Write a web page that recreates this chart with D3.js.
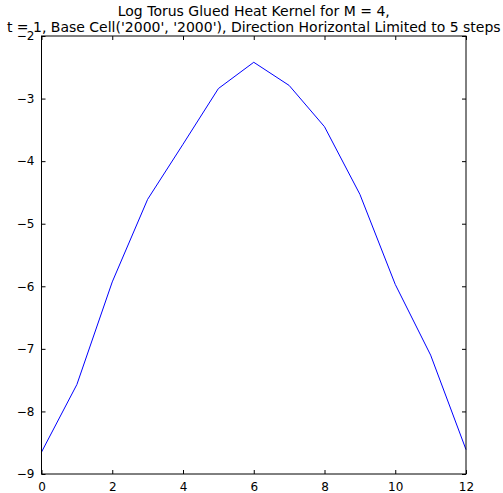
<!DOCTYPE html>
<html><head><meta charset="utf-8">
<script src="https://cdn.jsdelivr.net/npm/d3@7"></script>
<style>body{margin:0;background:#fff}svg{display:block}text{font-family:"DejaVu Sans",sans-serif}</style>
</head><body>
<script>
const xs = [0,1,2,3,4,5,6,7,8,9,10,11,12];
const ys = [-8.65,-7.57,-5.93,-4.61,-3.73,-2.84,-2.42,-2.79,-3.45,-4.53,-5.97,-7.10,-8.61];
const xTicks = [0,2,4,6,8,10,12];
const yTicks = [-9,-8,-7,-6,-5,-4,-3,-2];
const titleLines = ["Log Torus Glued Heat Kernel for M = 4,","t = 1, Base Cell('2000', '2000'), Direction Horizontal Limited to 5 steps"];

const W=503,H=493, L=41.5, R=466, T=36, B=474;
const svg=d3.select("body").append("svg").attr("width",W).attr("height",H);
const x=d3.scaleLinear().domain([0,12]).range([L,R]);
const y=d3.scaleLinear().domain([-9,-2]).range([B,T]);

svg.append("path").datum(xs.map((d,i)=>[d,ys[i]]))
  .attr("d",d3.line().x(d=>x(d[0])).y(d=>y(d[1])))
  .attr("fill","none").attr("stroke","#0000ff").attr("stroke-width",1);

const fmt=d=>d<0?"\u2212"+Math.abs(d):String(d);
const ax=svg.append("g").attr("transform",`translate(0,${B})`)
  .call(d3.axisBottom(x).tickValues(xTicks).tickSize(-4).tickPadding(8).tickFormat(fmt));
const axt=svg.append("g").attr("transform",`translate(0,${T})`)
  .call(d3.axisTop(x).tickValues(xTicks).tickSize(-4).tickFormat(""));
const ay=svg.append("g").attr("transform",`translate(${L},0)`)
  .call(d3.axisLeft(y).tickValues(yTicks).tickSize(-4).tickPadding(7).tickFormat(fmt));
const ayr=svg.append("g").attr("transform",`translate(${R},0)`)
  .call(d3.axisRight(y).tickValues(yTicks).tickSize(-4).tickFormat(""));
[ax,axt,ay,ayr].forEach(g=>{
  g.select(".domain").remove();
  g.selectAll("line").attr("stroke","#000").attr("stroke-width",1);
  g.selectAll("text").attr("font-size","12px").attr("fill","#000").attr("font-family","DejaVu Sans");
});
svg.append("rect").attr("x",L).attr("y",T).attr("width",R-L).attr("height",B-T)
  .attr("fill","none").attr("stroke","#000").attr("stroke-width",1);

svg.append("g").selectAll("text").data(titleLines).join("text")
  .attr("x",(L+R)/2).attr("y",(d,i)=>16+i*15.5).attr("text-anchor","middle")
  .attr("font-size","14px").attr("fill","#000").text(d=>d);
</script>
</body></html>
